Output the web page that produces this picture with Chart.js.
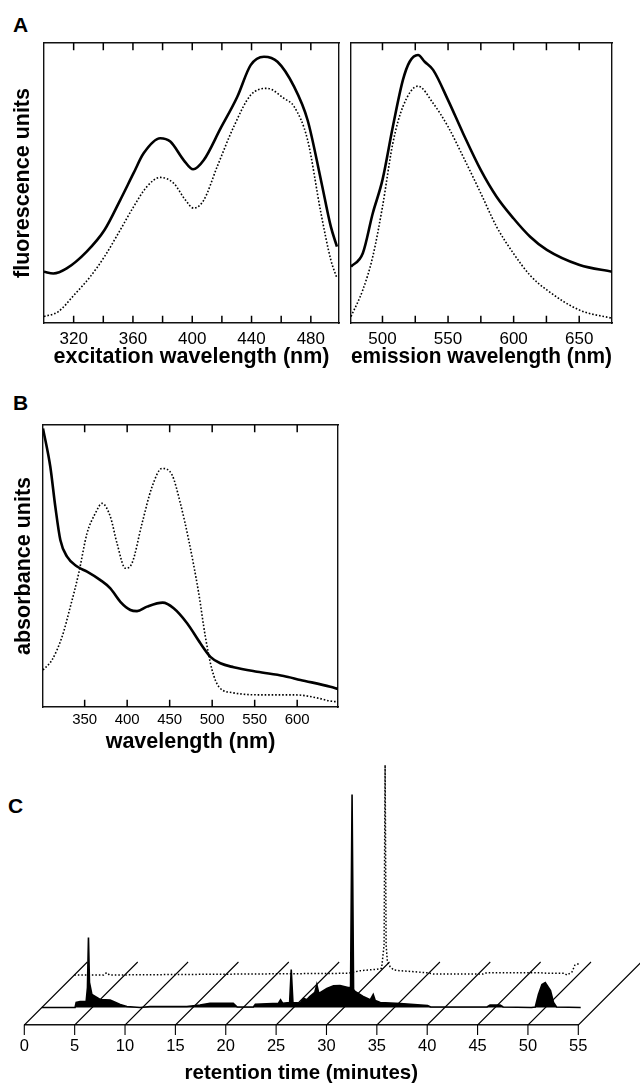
<!DOCTYPE html>
<html>
<head>
<meta charset="utf-8">
<script src="https://cdn.jsdelivr.net/npm/chart.js@4.4.1/dist/chart.umd.min.js"></script>
<style>
  html, body { margin: 0; padding: 0; background: #fff; width: 640px; height: 1084px; overflow: hidden; }
  body { position: relative; }
  canvas { position: absolute; }
  .letter { position: absolute; font: bold 21px 'Liberation Sans', Arial, sans-serif; line-height: 21px; color: #000; }
</style>
</head>
<body>
<div class="letter" style="left:13px; top:14px;">A</div>
<div class="letter" style="left:13px; top:392px;">B</div>
<div class="letter" style="left:8px; top:795px;">C</div>

<canvas id="chartExc" width="345" height="375" style="left:0; top:0;"></canvas>
<canvas id="chartEmi" width="295" height="375" style="left:345px; top:0;"></canvas>
<canvas id="chartAbs" width="345" height="380" style="left:0; top:380px;"></canvas>
<canvas id="chartHplc" width="640" height="335" style="left:0; top:755px;"></canvas>

<script>
// --- A: excitation spectrum (arbitrary units 0-100) ---
const excSolidNm  = [300, 306.3, 315.3, 328.8, 340.8, 351.4, 360.4, 367.2, 378.4, 385.2, 394.2, 400.6, 407.8, 419.1, 430.4, 439.4, 448.4, 457.5, 468.7, 477.8, 486.8, 493.5, 497.6];
const excSolidVal = [18.3, 17.7, 19.5, 25.5, 33.2, 43.9, 53.5, 60.6, 66, 64.8, 58.2, 54.9, 58.2, 69.5, 80.8, 92.1, 95.1, 93.3, 84.4, 72.5, 51.1, 34.4, 27.3];
const excDotNm    = [300, 309.5, 320.3, 331.1, 340.8, 351.4, 360.4, 369.4, 378.4, 387.5, 395.4, 401, 407.8, 416.8, 428, 439.4, 450.6, 461.9, 468.7, 477.8, 486.8, 493.5, 497.6];
const excDotVal   = [2.3, 4, 10, 16.5, 23.7, 33.2, 41.5, 48.7, 52, 49.9, 43.9, 41, 43.9, 55.8, 70.1, 81.4, 83.8, 80.2, 77.3, 65.4, 39.3, 22.5, 16];
const excTicks    = [320, 340, 360, 380, 400, 420, 440, 460, 480];
const excLabels   = [320, 360, 400, 440, 480];

// --- A: emission spectrum ---
const emiSolidNm  = [476, 485, 492.6, 500, 507.9, 515.6, 520.7, 527.1, 532.2, 538.6, 550, 561.5, 575, 587, 599.8, 612.6, 625.3, 650.3, 675];
const emiSolidVal = [20.1, 24.9, 39.2, 51.1, 70.1, 86.8, 93.3, 95.7, 93.3, 90.4, 79.6, 67.7, 54.6, 45.1, 37.4, 30.8, 26.1, 20.7, 18.3];
const emiDotNm    = [476, 485, 492.6, 500, 507.9, 515.6, 527.1, 538.6, 550, 561.5, 575, 587, 599.8, 612.6, 625.3, 650.3, 675];
const emiDotVal   = [2.3, 11.8, 23.7, 41.5, 64.2, 77.3, 84.6, 78.5, 70.1, 59.4, 46.3, 34.4, 24.9, 17, 11.8, 4.6, 1.7];
const emiTicks    = [500, 525, 550, 575, 600, 625, 650];
const emiLabels   = [500, 550, 600, 650];

// --- B: absorbance spectrum ---
const absSolidNm  = [301, 309.6, 315.5, 321.4, 329.3, 341.1, 352.8, 368.5, 380.2, 392, 403.8, 411.6, 423.4, 441.8, 454.7, 470.5, 486.1, 497.9, 509.6, 525.3, 552.8, 584.1, 603.8, 639, 648];
const absSolidVal = [98.8, 85.2, 71, 59.2, 53.3, 49.8, 48, 45, 42.1, 37.3, 34.4, 34, 35.6, 37, 35, 29.7, 22.6, 17.8, 15.5, 14.1, 12.5, 11, 9.6, 7.2, 6.4];
const absDotNm    = [301, 311.6, 323.4, 333.2, 343, 352.8, 362.6, 370.5, 380.2, 388.1, 397.9, 405.7, 417.5, 429.3, 441, 452.8, 462.6, 472.4, 484.2, 492, 499.9, 507.8, 523.4, 562.6, 597.9, 625.3, 637, 648];
const absDotVal   = [13.1, 16.7, 24.9, 35.6, 47.4, 61.6, 68.7, 72.2, 67.5, 58, 49.2, 51, 65.1, 78.1, 84.6, 82.3, 72.2, 59.2, 40.3, 24.9, 13.1, 7.2, 5.1, 4.3, 4.3, 3.1, 2.2, 1.8];
const absTicks    = [350, 400, 450, 500, 550, 600];
const absLabels   = [350, 400, 450, 500, 550, 600];

// --- C: chromatograms (minutes, signal height) ---
const solidTime   = [0, 3.3, 3.41, 3.8, 4.4, 4.53, 4.63, 4.73, 4.97, 5.46, 5.79, 6.78, 7.11, 7.78, 8.44, 9.76, 10.76, 14.4, 15.7, 16.7, 19.0, 19.4, 21.0, 21.2, 23.5, 23.7, 23.9, 24.6, 24.76, 24.93, 25.65, 25.98, 26.3, 26.6, 27.1, 27.3, 27.5, 28.3, 28.96, 29.6, 30.4, 30.65, 30.8, 30.95, 31.1, 31.9, 32.6, 32.9, 33.1, 33.6, 35.6, 38.3, 38.6, 44.2, 44.5, 45.5, 45.8, 48.6, 48.99, 49.3, 49.65, 49.98, 50.5, 50.8, 51.1, 53.5, 54.1, 54.96];
const solidSignal = [0, 0, 5, 6, 6, 20, 70, 25, 13, 10, 8, 7.5, 6, 3, 1, 0, 1, 1, 2.5, 4.3, 4.3, 0.5, 0.5, 3.3, 4.3, 7.7, 4.3, 5, 38, 5, 4.5, 9.3, 7.7, 11, 15, 23, 14, 19, 21.7, 22, 20, 20, 213, 18, 16, 11, 7.7, 13, 7, 5, 4, 2, 0.5, 0.5, 2.5, 2.5, 0.5, 0, 0.5, 13, 23, 25, 17, 5, 0.5, 0, -1.5, -1.5];
const dottedTime   = [0, 2.9, 3.2, 3.5, 27.2, 28.4, 30.0, 30.5, 30.75, 30.85, 30.95, 31.08, 31.35, 31.7, 32.3, 35.0, 35.65, 40.6, 40.95, 46.25, 46.9, 48.6, 48.9, 49.4, 49.7, 50.2, 50.5, 50.9, 51.2, 55];
const dottedSignal = [0, 0, 2.3, 0, 1.7, 4.3, 5.7, 6.7, 30, 210, 30, 13, 8.3, 5, 4.3, 2.3, 1, 1, 2.3, 2.3, 1.7, 1.7, 0, 3, 10, 11.7, 8, 2, 0, 0];
const retentionTicks = [0, 5, 10, 15, 20, 25, 30, 35, 40, 45, 50, 55];

// pseudo 3D offsets (in axis units) for each trace plane
const solidShift  = { dx: 1.74, dy: 17.5 };
const dottedShift = { dx: 4.97, dy: 50 };
const gridDepth   = { dx: 6.26, dy: 63 };

Chart.defaults.font.family = "'Liberation Sans', Arial, sans-serif";
Chart.defaults.color = '#000';

function pts(xs, ys, shift) {
    const s = shift || { dx: 0, dy: 0 };
    return xs.map((x, i) => ({ x: x + s.dx, y: ys[i] + s.dy }));
}

function solidLine(xs, ys) {
    return { data: pts(xs, ys), showLine: true, borderColor: '#000', borderWidth: 2.6,
             pointRadius: 0, cubicInterpolationMode: 'monotone' };
}

function dottedLine(xs, ys) {
    return { data: pts(xs, ys), showLine: true, borderColor: '#000', borderWidth: 1.6,
             borderDash: [1.6, 1.9], pointRadius: 0, cubicInterpolationMode: 'monotone' };
}

// short marks going into the box from bottom (y=0) and top (y=100)
function tickMarks(values, len) {
    const data = [];
    values.forEach(v => {
        data.push({ x: v, y: 0 }, { x: v, y: len }, { x: v, y: null });
        data.push({ x: v, y: 100 }, { x: v, y: 100 - len }, { x: v, y: null });
    });
    return { data: data, showLine: true, spanGaps: false, borderColor: '#000', borderWidth: 1.5,
             pointRadius: 0, tension: 0 };
}

// box chart: full frame, labels under the bottom ticks
function spectrumChart(id, c) {
    const borderOpts = { display: true, color: '#111', width: 1.4 };
    const setTicks = s => { s.ticks = c.ticks.map(v => ({ value: v })); };
    new Chart(document.getElementById(id), {
        type: 'scatter',
        data: { datasets: [solidLine(c.solidX, c.solidY), dottedLine(c.dotX, c.dotY), tickMarks(c.ticks, 2.6)] },
        options: {
            responsive: false,
            animation: false,
            layout: { padding: 0 },
            plugins: { legend: { display: false }, tooltip: { enabled: false } },
            scales: {
                x: {
                    type: 'linear', position: 'bottom', min: c.xMin, max: c.xMax,
                    afterBuildTicks: setTicks,
                    ticks: {
                        autoSkip: false, maxRotation: 0, padding: c.tickPad,
                        font: { size: c.tickSize }, color: '#000',
                        callback: v => c.labels.includes(v) ? v : ''
                    },
                    grid: { display: false, drawTicks: false },
                    border: borderOpts,
                    title: { display: true, text: c.xTitle, color: '#000',
                             font: { size: 21.5, weight: 'bold' }, padding: { top: 0, bottom: c.titlePad } },
                    afterFit: s => { s.height = c.bottom; }
                },
                x2: {
                    type: 'linear', position: 'top', min: c.xMin, max: c.xMax,
                    ticks: { display: false },
                    grid: { display: false, drawTicks: false },
                    border: borderOpts,
                    afterFit: s => { s.height = c.top; }
                },
                y: {
                    type: 'linear', position: 'left', min: 0, max: 100,
                    ticks: { display: false },
                    grid: { display: false },
                    border: borderOpts,
                    title: { display: !!c.yTitle, text: c.yTitle || '', color: '#000',
                             font: { size: 21.5, weight: 'bold' }, padding: { top: c.yTitlePad || 0, bottom: 0 } },
                    afterFit: s => { s.width = c.left; }
                },
                y2: {
                    type: 'linear', position: 'right', min: 0, max: 100,
                    ticks: { display: false },
                    grid: { display: false },
                    border: borderOpts,
                    afterFit: s => { s.width = c.right; }
                }
            }
        }
    });
}

spectrumChart('chartExc', {
    solidX: excSolidNm, solidY: excSolidVal, dotX: excDotNm, dotY: excDotVal,
    xMin: 300, xMax: 499, ticks: excTicks, labels: excLabels,
    xTitle: 'excitation wavelength (nm)', yTitle: 'fluorescence units', yTitlePad: 10,
    tickSize: 17, tickPad: 6, titlePad: 5,
    left: 44, right: 6, top: 43, bottom: 52
});

spectrumChart('chartEmi', {
    solidX: emiSolidNm, solidY: emiSolidVal, dotX: emiDotNm, dotY: emiDotVal,
    xMin: 476, xMax: 675, ticks: emiTicks, labels: emiLabels,
    xTitle: 'emission wavelength (nm)',
    tickSize: 17, tickPad: 6, titlePad: 5,
    left: 6, right: 28, top: 43, bottom: 52
});

spectrumChart('chartAbs', {
    solidX: absSolidNm, solidY: absSolidVal, dotX: absDotNm, dotY: absDotVal,
    xMin: 301, xMax: 648, ticks: absTicks, labels: absLabels,
    xTitle: 'wavelength (nm)', yTitle: 'absorbance units', yTitlePad: 11,
    tickSize: 15, tickPad: 4, titlePad: 5,
    left: 43, right: 7, top: 45, bottom: 53
});

// --- C: stacked chromatograms drawn on a slanted floor ---
// each retention tick: short mark below the front axis, then a slanted line to the back
function floorLines() {
    const data = [];
    retentionTicks.forEach(t => {
        data.push({ x: t, y: -10 }, { x: t, y: 0 }, { x: t + gridDepth.dx, y: gridDepth.dy });
        data.push({ x: t, y: null }); // gap
    });
    return data;
}

new Chart(document.getElementById('chartHplc'), {
    type: 'scatter',
    data: {
        datasets: [
            {
                data: pts(solidTime, solidSignal, solidShift), showLine: true, clip: false,
                borderColor: '#000', borderWidth: 1.6, backgroundColor: '#000',
                fill: { value: solidShift.dy }, pointRadius: 0, tension: 0
            },
            {
                data: pts(dottedTime, dottedSignal, dottedShift), showLine: true, clip: false,
                borderColor: '#000', borderWidth: 1.5, borderDash: [1.5, 2], pointRadius: 0, tension: 0
            },
            {
                data: floorLines(), showLine: true, clip: false, spanGaps: false,
                borderColor: '#000', borderWidth: 1.1, pointRadius: 0, tension: 0
            }
        ]
    },
    options: {
        responsive: false,
        animation: false,
        layout: { padding: { left: 24.3, right: 61.7, top: 7, bottom: 0 } },
        plugins: { legend: { display: false }, tooltip: { enabled: false } },
        scales: {
            x: {
                type: 'linear', position: 'bottom', min: 0, max: 55,
                afterBuildTicks: s => { s.ticks = retentionTicks.map(v => ({ value: v })); },
                ticks: { autoSkip: false, maxRotation: 0, padding: 12, font: { size: 16.5 }, color: '#000' },
                grid: { display: false, drawTicks: false },
                border: { display: true, color: '#111', width: 1.5 },
                title: { display: true, text: 'retention time (minutes)', color: '#000',
                         font: { size: 20.5, weight: 'bold' }, padding: { top: 0, bottom: 4.7 } },
                afterFit: s => { s.height = 65; }
            },
            y: { display: false, min: 0, max: 263 }
        }
    }
});
</script>
</body>
</html>
